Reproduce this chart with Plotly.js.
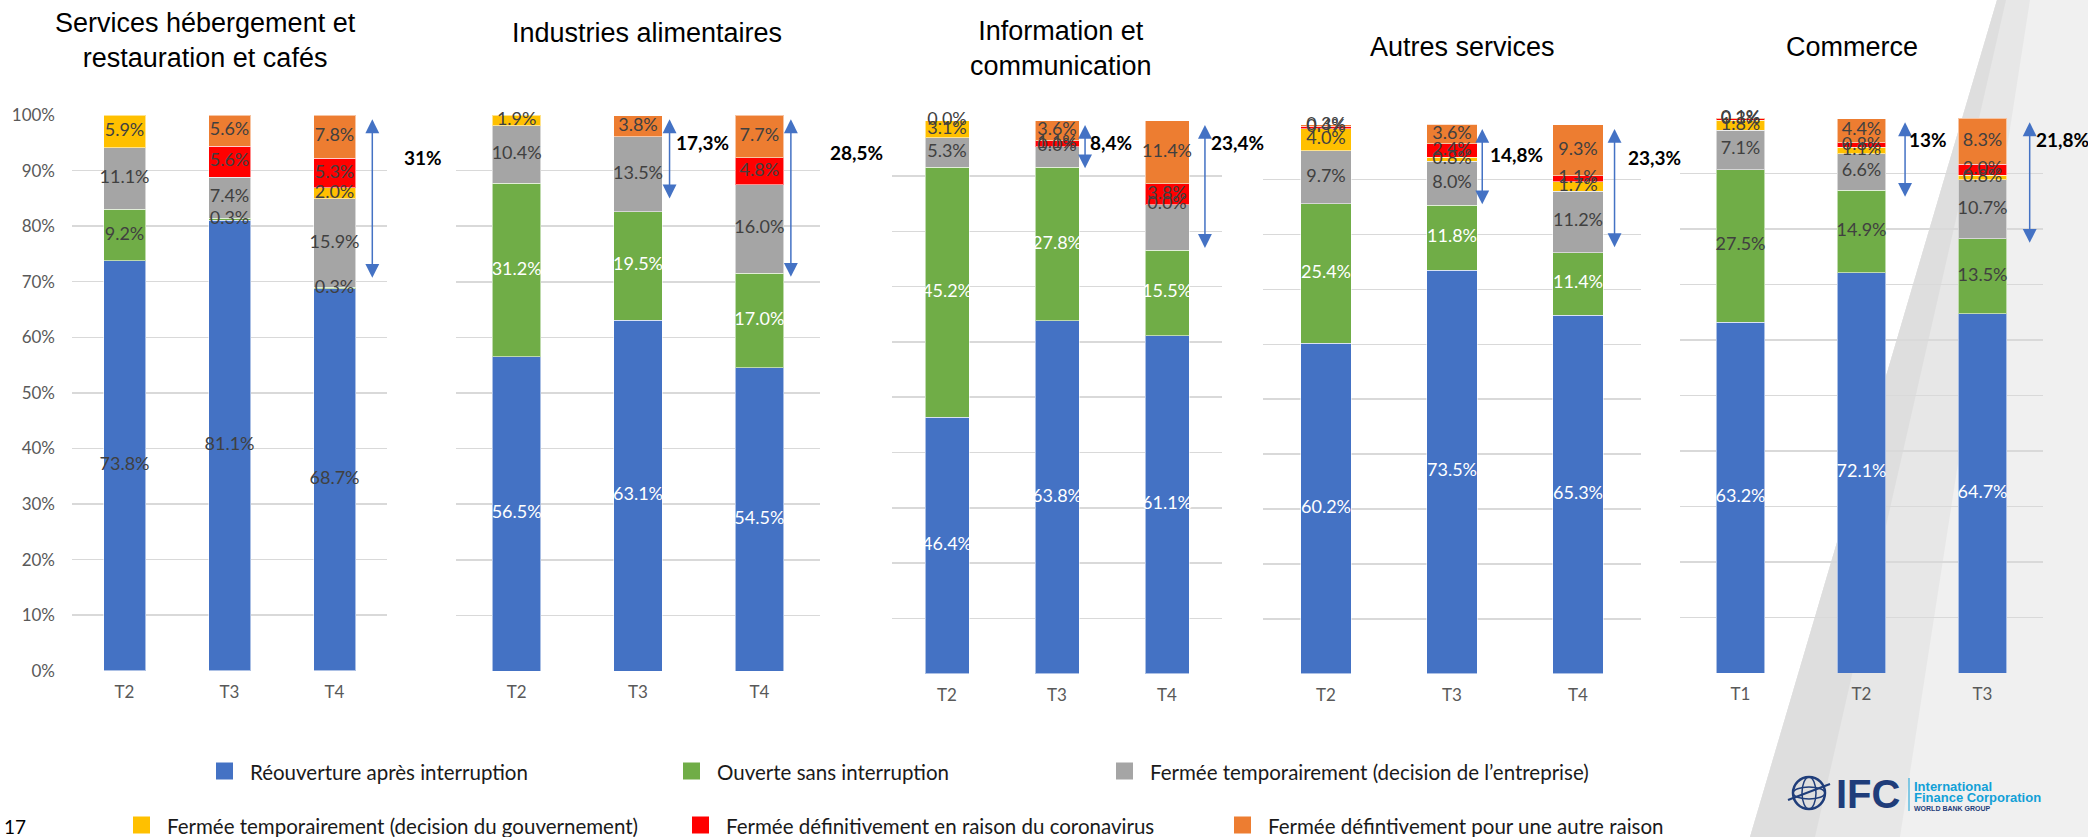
<!DOCTYPE html>
<html>
<head>
<meta charset="utf-8">
<script src="https://cdn.plot.ly/plotly-3.0.1.min.js"></script>
<style>
html,body{margin:0;padding:0;background:#fff;}
#chart{width:2088px;height:837px;}
</style>
</head>
<body>
<div id="chart"></div>
<script>
// ---------------- DATA ----------------
const panelTitles = [
  'Services hébergement et<br>restauration et cafés',
  'Industries alimentaires',
  'Information et<br>communication',
  'Autres services',
  'Commerce'
];
const panelCategories = [
  ['T2', 'T3', 'T4'],
  ['T2', 'T3', 'T4'],
  ['T2', 'T3', 'T4'],
  ['T2', 'T3', 'T4'],
  ['T1', 'T2', 'T3']
];
const seriesNames = [
  'Réouverture après interruption',
  'Ouverte sans interruption',
  'Fermée temporairement (decision de l’entreprise)',
  'Fermée temporairement (decision du gouvernement)',
  'Fermée définitivement en raison du coronavirus',
  'Fermée défintivement pour une autre raison'
];
// values in %, one inner array per panel (3 periods each)
const reouverture        = [[73.8, 81.1, 68.7], [56.5, 63.1, 54.5], [46.4, 63.8, 61.1], [60.2, 73.5, 65.3], [63.2, 72.1, 64.7]];
const ouverte            = [[9.2, 0.3, 0.3],    [31.2, 19.5, 17.0], [45.2, 27.8, 15.5], [25.4, 11.8, 11.4], [27.5, 14.9, 13.5]];
const fermeeEntreprise   = [[11.1, 7.4, 15.9],  [10.4, 13.5, 16.0], [5.3, 3.7, 8.2],    [9.7, 8.0, 11.2],   [7.1, 6.6, 10.7]];
const fermeeGouvernement = [[5.9, null, 2.0],   [1.9, null, null],  [3.1, 0.0, 0.0],    [4.0, 0.8, 1.7],    [1.8, 1.1, 0.8]];
const fermeeCoronavirus  = [[null, 5.6, 5.3],   [null, null, 4.8],  [0.0, 1.1, 3.8],    [0.4, 2.4, 1.1],    [0.3, 0.8, 2.0]];
const fermeeAutre        = [[null, 5.6, 7.8],   [null, 3.8, 7.7],   [null, 3.6, 11.4],  [0.3, 3.6, 9.3],    [0.1, 4.4, 8.3]];
const seriesValues = [reouverture, ouverte, fermeeEntreprise, fermeeGouvernement, fermeeCoronavirus, fermeeAutre];

// labels not shown in the original: [series, panel, period]
const hiddenLabels = [[2, 2, 1], [2, 2, 2]];

// share of closed firms, shown with arrows: panel, period, label, arrow bottom (%)
const arrowPanel  = [0, 1, 1, 2, 2, 3, 3, 4, 4];
const arrowPeriod = [2, 1, 2, 1, 2, 1, 2, 1, 2];
const arrowLabels = ['31%', '17,3%', '28,5%', '8,4%', '23,4%', '14,8%', '23,3%', '13%', '21,8%'];
const arrowBottom = [70.7, 85.0, 70.9, 91.4, 77.0, 85.5, 77.7, 85.8, 77.5];

// ---------------- STYLE / POSITIONS ----------------
const W = 2088, H = 837;
const fx = v => v / W;
const fy = v => 1 - v / H;
const seriesColors = ['#4472c4', '#70ad47', '#a5a5a5', '#ffc000', '#ff0000', '#ed7d31'];
const panelBoxes = [ // [left, right, top, bottom] in px
  [72, 387, 115, 670.7],
  [456, 820, 115, 671],
  [892, 1222, 120.7, 673.7],
  [1263, 1641, 124.7, 673.7],
  [1680, 2043, 118, 673]
];
const titlePos = [[205, 41], [647, 33], [1061, 48.5], [1462, 47], [1852, 47]];
const whiteLabelSeries = [[], [0, 1], [0, 1], [0, 1], [0]];
const arrowDx      = [0.36, 0.26, 0.26, 0.255, 0.345, 0.24, 0.29, 0.36, 0.39];
const arrowLabelDx = [0.84, 0.53, 0.80, 0.49, 0.645, 0.51, 0.61, 0.55, 0.66];
const arrowLabelY  = [92.4, 95, 93.3, 96, 96, 94.5, 94.1, 96.2, 96.2];
const arrowTop = 99.5;
const legendPos = [[216, 771], [683, 771], [1116, 771], [133, 825], [692, 825], [1234, 825]];
const LABEL_FONT = 'Lato, "Open Sans", sans-serif';
const DARK = '#404040';

// data value -> paper fraction for a panel (category axis range [-0.5, 2.5], value axis [0, 100])
const dataToPaperX = (p, v) => { const [l, r] = panelBoxes[p]; return fx(l + (v + 0.5) / 3 * (r - l)); };
const dataToPaperY = (p, v) => { const [, , t, b] = panelBoxes[p]; return fy(b - v / 100 * (b - t)); };

// ---------------- BUILD ----------------
const traces = [];
const layout = {
  width: W, height: H,
  margin: {l: 0, r: 0, t: 0, b: 0},
  paper_bgcolor: '#ffffff',
  plot_bgcolor: 'rgba(0,0,0,0)',
  barmode: 'stack',
  bargap: 0.6,
  showlegend: false,
  font: {family: LABEL_FONT, color: '#595959'},
  annotations: [],
  shapes: []
};

panelCategories.forEach((cats, p) => {
  const sfx = p === 0 ? '' : String(p + 1);
  const [l, r, t, b] = panelBoxes[p];
  layout['xaxis' + sfx] = {
    domain: [fx(l), fx(r)], anchor: 'y' + sfx, type: 'category',
    range: [-0.5, 2.5], showgrid: false, showline: false, zeroline: false, ticks: '',
    tickfont: {family: LABEL_FONT, size: 17, color: '#595959'}, ticklabelstandoff: 9, fixedrange: true
  };
  layout['yaxis' + sfx] = {
    domain: [fy(b), fy(t)], anchor: 'x' + sfx, range: [0, 100], dtick: 10,
    ticksuffix: '%', showticklabels: p === 0, showgrid: true, gridcolor: '#d9d9d9', gridwidth: 1.5,
    zeroline: false, showline: false, ticks: '',
    tickfont: {family: LABEL_FONT, size: 17, color: '#595959'}, ticklabelstandoff: 16, fixedrange: true
  };

  // stacked bars
  seriesValues.forEach((vals, s) => {
    traces.push({
      type: 'bar', name: seriesNames[s], x: cats, y: vals[p],
      xaxis: 'x' + sfx, yaxis: 'y' + sfx,
      marker: {color: seriesColors[s], line: {color: 'rgba(255,255,255,0.55)', width: 1}},
      hoverinfo: 'skip', showlegend: false
    });
  });

  // data labels at segment centres
  const tx = [], ty = [], tt = [], tc = [];
  cats.forEach((c, k) => {
    let base = 0;
    seriesValues.forEach((vals, s) => {
      const v = vals[p][k];
      if (v === null || v === undefined) return;
      const hidden = hiddenLabels.some(h => h[0] === s && h[1] === p && h[2] === k);
      if (!hidden) {
        tx.push(c); ty.push(base + v / 2); tt.push(v.toFixed(1) + '%');
        tc.push(whiteLabelSeries[p].includes(s) ? '#ffffff' : DARK);
      }
      base += v;
    });
  });
  traces.push({
    type: 'scatter', mode: 'text', x: tx, y: ty, text: tt,
    textfont: {family: LABEL_FONT, size: 18, color: tc},
    xaxis: 'x' + sfx, yaxis: 'y' + sfx, cliponaxis: false, hoverinfo: 'skip', showlegend: false
  });

  // title
  layout.annotations.push({
    xref: 'paper', yref: 'paper', x: fx(titlePos[p][0]), y: fy(titlePos[p][1]),
    xanchor: 'center', yanchor: 'middle', showarrow: false, text: panelTitles[p],
    font: {family: '"Liberation Sans", Arial, sans-serif', size: 27, color: '#000000'}
  });
});

// arrows + labels
arrowPanel.forEach((p, i) => {
  const sfx = p === 0 ? '' : String(p + 1);
  const xv = arrowPeriod[i] + arrowDx[i];
  layout.annotations.push({
    xref: 'x' + sfx, yref: 'y' + sfx, axref: 'x' + sfx, ayref: 'y' + sfx,
    x: xv, y: arrowBottom[i], ax: xv, ay: arrowTop, text: '',
    showarrow: true, arrowside: 'end+start', arrowhead: 2, startarrowhead: 2,
    arrowsize: 1.85, startarrowsize: 1.85, arrowwidth: 1.5, arrowcolor: '#4472c4',
    standoff: 0, startstandoff: 0
  });
  layout.annotations.push({
    xref: 'paper', yref: 'paper',
    x: dataToPaperX(p, arrowPeriod[i] + arrowLabelDx[i]), y: dataToPaperY(p, arrowLabelY[i]),
    text: '<b>' + arrowLabels[i] + '</b>', showarrow: false, xanchor: 'center', yanchor: 'middle',
    font: {family: LABEL_FONT, size: 19, color: '#000000'}
  });
});

// legend (manual, two centred rows)
seriesNames.forEach((n, s) => {
  const [x, y] = legendPos[s];
  layout.shapes.push({
    type: 'rect', xref: 'paper', yref: 'paper', x0: fx(x), x1: fx(x + 17), y0: fy(y - 8.5), y1: fy(y + 8.5),
    fillcolor: seriesColors[s], line: {width: 0}
  });
  layout.annotations.push({
    xref: 'paper', yref: 'paper', x: fx(x + 32), y: fy(y + 1), xanchor: 'left', yanchor: 'middle',
    showarrow: false, text: n, font: {family: LABEL_FONT, size: 20.5, color: '#1a1a1a'}
  });
});

// slide decoration: grey diagonal panel at right
const poly = pts => 'M' + pts.map(q => fx(q[0]) + ',' + fy(q[1])).join(' L') + ' Z';
layout.shapes.push({type: 'path', xref: 'paper', yref: 'paper', layer: 'below',
  path: poly([[1997, 0], [2088, 0], [2088, 837], [1750, 837]]), fillcolor: '#f0f0f0', line: {width: 0}});
layout.shapes.push({type: 'path', xref: 'paper', yref: 'paper', layer: 'below',
  path: poly([[1997, 0], [2030, 0], [1900, 837], [1750, 837]]), fillcolor: '#e7e7e7', line: {width: 0}});
layout.shapes.push({type: 'path', xref: 'paper', yref: 'paper', layer: 'below',
  path: poly([[1997, 0], [2006, 0], [1815, 837], [1750, 837]]), fillcolor: '#dedede', line: {width: 0}});

// IFC logo
const navy = '#1f3d7a', cyan = '#12a0d7';
layout.shapes.push({type: 'circle', xref: 'paper', yref: 'paper', x0: fx(1793), x1: fx(1825), y0: fy(809), y1: fy(777),
  line: {color: navy, width: 2.5}});
layout.shapes.push({type: 'circle', xref: 'paper', yref: 'paper', x0: fx(1802), x1: fx(1816), y0: fy(809), y1: fy(777),
  line: {color: navy, width: 1.5}});
layout.shapes.push({type: 'circle', xref: 'paper', yref: 'paper', x0: fx(1793), x1: fx(1825), y0: fy(799), y1: fy(787),
  line: {color: navy, width: 1.5}});
layout.shapes.push({type: 'line', xref: 'paper', yref: 'paper', x0: fx(1788), x1: fx(1830), y0: fy(800), y1: fy(784),
  line: {color: navy, width: 2}});
layout.annotations.push({xref: 'paper', yref: 'paper', x: fx(1834), y: fy(794), xanchor: 'left', yanchor: 'middle',
  showarrow: false, text: '<b>IFC</b>', font: {family: '"Liberation Sans", Arial, sans-serif', size: 40, color: navy}});
layout.shapes.push({type: 'line', xref: 'paper', yref: 'paper', x0: fx(1909), x1: fx(1909), y0: fy(778), y1: fy(811),
  line: {color: cyan, width: 1}});
layout.annotations.push({xref: 'paper', yref: 'paper', x: fx(1912), y: fy(786), xanchor: 'left', yanchor: 'middle',
  showarrow: false, text: '<b>International</b>', font: {family: '"Liberation Sans", Arial, sans-serif', size: 13, color: cyan}});
layout.annotations.push({xref: 'paper', yref: 'paper', x: fx(1912), y: fy(797), xanchor: 'left', yanchor: 'middle',
  showarrow: false, text: '<b>Finance Corporation</b>', font: {family: '"Liberation Sans", Arial, sans-serif', size: 13, color: cyan}});
layout.annotations.push({xref: 'paper', yref: 'paper', x: fx(1912), y: fy(808), xanchor: 'left', yanchor: 'middle',
  showarrow: false, text: '<b>WORLD BANK GROUP</b>', font: {family: '"Liberation Sans", Arial, sans-serif', size: 7, color: navy}});

// page number
layout.annotations.push({xref: 'paper', yref: 'paper', x: fx(2), y: fy(826), xanchor: 'left', yanchor: 'middle',
  showarrow: false, text: '17', font: {family: LABEL_FONT, size: 19, color: '#000000'}});

Plotly.newPlot('chart', traces, layout, {staticPlot: true, displayModeBar: false});
</script>
</body>
</html>
